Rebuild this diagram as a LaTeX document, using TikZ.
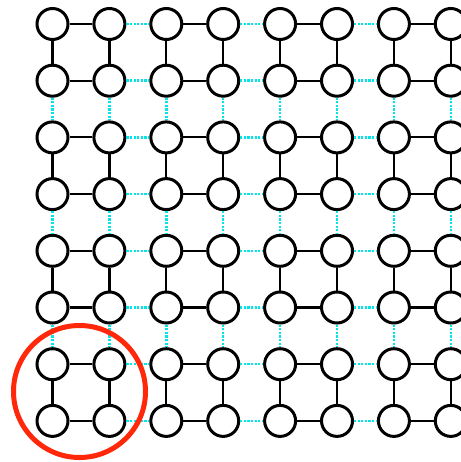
\documentclass[tikz,border=0pt]{standalone}
\definecolor{linkcyan}{RGB}{0,230,235}
\definecolor{ringred}{RGB}{255,40,10}
\tikzset{
  qnode/.style={circle,draw=black,fill=white,line width=3pt,minimum size=31pt,inner sep=0pt},
  inlink/.style={draw=black,line width=2.2pt},
  outlink/.style={draw=linkcyan,line width=2.4pt,dash pattern=on 2.2pt off 1.4pt},
  ring/.style={draw=ringred,line width=5pt}
}
\begin{document}
\begin{tikzpicture}[x=1pt,y=-1pt]
\useasboundingbox (0,0) rectangle (460,462);
% nodes
\foreach \i in {0,...,7}{
  \foreach \j in {0,...,7}{
    \node[qnode] (n-\i-\j) at ({52.5+56.9*\i},{24+56.7*\j}) {};
  }
}
% links
\foreach \i in {0,...,7}{
  \foreach \j in {0,...,7}{
    \pgfmathtruncatemacro{\ni}{\i+1}
    \pgfmathtruncatemacro{\nj}{\j+1}
    \pgfmathtruncatemacro{\ei}{mod(\i,2)}
    \pgfmathtruncatemacro{\ej}{mod(\j,2)}
    \ifnum\i<7
      \ifnum\ei=0
        \path[inlink] (n-\i-\j) -- (n-\ni-\j);
      \else
        \path[outlink] (n-\i-\j) -- (n-\ni-\j);
      \fi
    \fi
    \ifnum\j<7
      \ifnum\ej=0
        \path[inlink] (n-\i-\j) -- (n-\i-\nj);
      \else
        \path[outlink] (n-\i-\j) -- (n-\i-\nj);
      \fi
    \fi
  }
}
% red ring around the bottom-left block
\node[ring,circle,minimum size=132pt,inner sep=0pt] (ring) at (79.5,391.5) {};
\end{tikzpicture}
\end{document}
